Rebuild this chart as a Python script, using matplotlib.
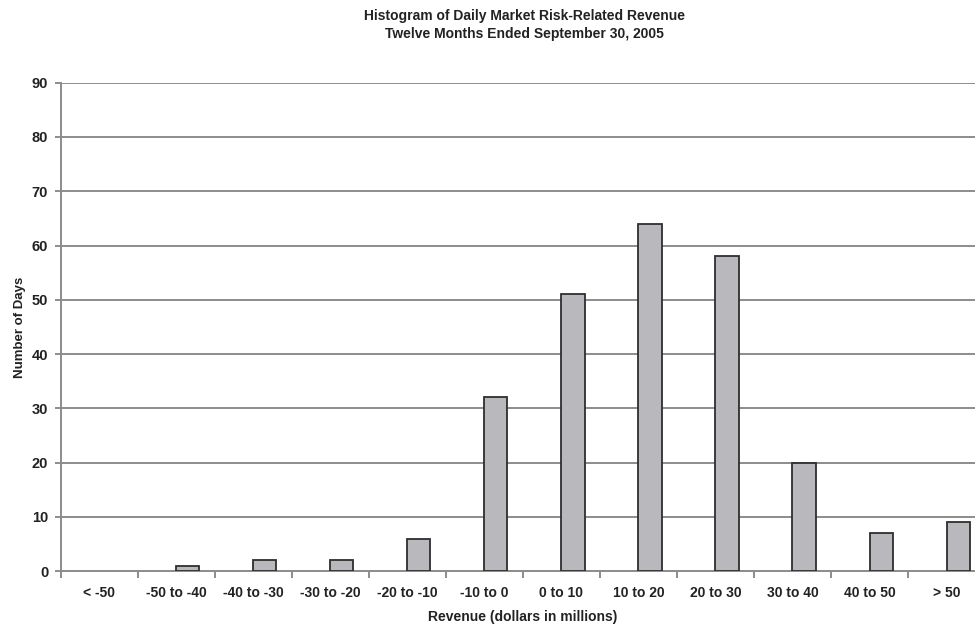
import numpy as np
import matplotlib
matplotlib.use("Agg")
import matplotlib.pyplot as plt

# Data
categories = ["< -50", "-50 to -40", "-40 to -30", "-30 to -20", "-20 to -10", "-10 to 0",
              "0 to 10", "10 to 20", "20 to 30", "30 to 40", "40 to 50", "> 50"]
days = [0, 1, 2, 2, 6, 32, 51, 64, 58, 20, 7, 9]
y_ticks = [0, 10, 20, 30, 40, 50, 60, 70, 80, 90]

plt.rcParams["font.family"] = ["Liberation Sans", "DejaVu Sans"]
plt.rcParams["font.weight"] = "bold"

fig = plt.figure(figsize=(9.75, 6.29), dpi=100)
# axes runs slightly past the right edge, as in the scanned original
ax = fig.add_axes([0.0623, 0.092, 0.948, 0.7765])

x = np.arange(len(categories))
edge_w = [1.3 if d > 0 else 0 for d in days]  # empty bins show no outline
ax.bar(x, days, width=0.3, align="edge", color="#b9b9bd",
       edgecolor="#2e2e2e", linewidth=edge_w, zorder=3)

ax.set_xlim(-0.5, len(categories) - 0.5)
ax.set_ylim(0, 90)
ax.set_yticks(y_ticks)
ax.yaxis.grid(True, color="#8c8c8c", linewidth=1.4, zorder=0)
ax.set_axisbelow(True)

# ticks on category boundaries, labels at category centres
ax.set_xticks(np.arange(len(categories) + 1) - 0.5)
ax.set_xticklabels([])
ax.set_xticks(x, minor=True)
ax.set_xticklabels(categories, minor=True, fontsize=10, fontweight="bold", color="#222222")
ax.tick_params(axis="x", which="major", length=5, width=1.4, color="#8c8c8c")
ax.tick_params(axis="x", which="minor", length=0, pad=11)
ax.tick_params(axis="y", length=4, width=1.4, color="#8c8c8c", labelsize=10.5,
               labelcolor="#222222", pad=5)
for lbl in ax.get_yticklabels():
    lbl.set_fontweight("bold")

for s in ["top", "right"]:
    ax.spines[s].set_visible(False)
ax.spines["left"].set_color("#8c8c8c")
ax.spines["left"].set_linewidth(1.4)
ax.spines["bottom"].set_color("#8c8c8c")
ax.spines["bottom"].set_linewidth(1.4)

ax.set_ylabel("Number of Days", fontsize=9.5, fontweight="bold", color="#222222", labelpad=4)
ax.set_xlabel("Revenue (dollars in millions)", fontsize=10, fontweight="bold",
              color="#222222", labelpad=7)

fig.text(0.538, 0.985, "Histogram of Daily Market Risk-Related Revenue\nTwelve Months Ended September 30, 2005",
         ha="center", va="top", fontsize=10, fontweight="bold", color="#222222", linespacing=1.35)

fig.savefig("out.png", dpi=100)
